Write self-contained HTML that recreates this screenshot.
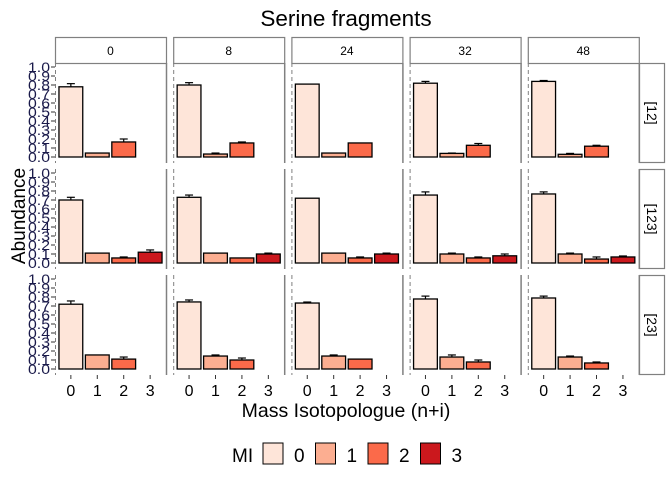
<!DOCTYPE html>
<html><head><meta charset="utf-8"><style>
body{margin:0;background:#fff;}
svg{display:block;font-family:"Liberation Sans",sans-serif;}
</style></head><body>
<svg id="chart" width="672" height="480">
<text x="346" y="26" text-anchor="middle" font-size="22.5">Serine fragments</text>
<text transform="translate(25,216) rotate(-90)" text-anchor="middle" font-size="19">Abundance</text>
<text x="346" y="417" text-anchor="middle" font-size="19.5">Mass Isotopologue (n+i)</text>
<g id="legend">
<text x="232" y="462" font-size="19">MI</text>
</g>
</svg>
<script>
const columns = ["0","8","24","32","48"];
const rowsLbl = ["[12]","[123]","[23]"];
const isotopologues = [0,1,2,3];
const yTicks = [0,0.1,0.2,0.3,0.4,0.5,0.6,0.7,0.8,0.9,1.0];
const yTickLabels = ["0.0","0.1","0.2","0.3","0.4","0.5","0.6","0.7","0.8","0.9","1.0"];
const valuesR12 = [[0.78,0.044,0.167,null],[0.80,0.033,0.156,null],[0.81,0.044,0.156,null],[0.82,0.04,0.13,null],[0.84,0.03,0.12,null]];
const errR12 = [[0.815,0.044,0.20,null],[0.826,0.044,0.167,null],[0.81,0.044,0.156,null],[0.84,0.044,0.15,null],[0.85,0.04,0.13,null]];
const valuesR123 = [[0.70,0.11,0.056,0.12],[0.73,0.11,0.056,0.10],[0.72,0.11,0.056,0.10],[0.755,0.10,0.056,0.08],[0.767,0.10,0.044,0.067]];
const errR123 = [[0.73,0.11,0.067,0.145],[0.755,0.11,0.056,0.11],[0.72,0.11,0.067,0.11],[0.79,0.11,0.067,0.10],[0.79,0.11,0.067,0.078]];
const valuesR23 = [[0.72,0.156,0.11,null],[0.745,0.144,0.10,null],[0.733,0.144,0.11,null],[0.778,0.133,0.078,null],[0.789,0.133,0.067,null]];
const errR23 = [[0.756,0.156,0.133,null],[0.767,0.156,0.122,null],[0.744,0.156,0.11,null],[0.81,0.156,0.10,null],[0.81,0.144,0.078,null]];
const fills = ["#FEE5D9","#FCAE91","#FB6A4A","#CB181D"];

const values=[valuesR12,valuesR123,valuesR23], errs=[errR12,errR123,errR23];
const svg=document.getElementById('chart');
const NS="http://www.w3.org/2000/svg";
function mk(t,a,p){const e=document.createElementNS(NS,t);for(const k in a)e.setAttribute(k,a[k]);(p||svg).appendChild(e);return e;}
const colLeft=c=>55+c*118.2, pw=111;
const rowTop=r=>63+r*106, ph=100;
const xs=(c,v)=>colLeft(c)+(v+0.6)*pw/4.2;
const ys=(r,v)=>rowTop(r)+94-v*90;
const bw=0.9*pw/4.2;

columns.forEach((lab,c)=>{
  const s=mk('rect',{x:colLeft(c)+0.5,y:37.5,width:pw,height:26,fill:'#fff',stroke:'#808080','stroke-width':1.2});
  
  
  const t=mk('text',{x:colLeft(c)+pw/2,y:55,'text-anchor':'middle','font-size':12});
  t.textContent=lab;
  
  
});
rowsLbl.forEach((lab,r)=>{
  const s=mk('rect',{x:639.5,y:rowTop(r)+0.5,width:25,height:ph-1,fill:'#fff',stroke:'#808080','stroke-width':1.2});
  
  
  const t=mk('text',{transform:`translate(647,${rowTop(r)+ph/2}) rotate(90)`,'text-anchor':'middle','font-size':14});
  t.textContent=lab;
  
  
});
for(let r=0;r<3;r++){
  for(let c=0;c<5;c++){
    const g=mk('g',{});
    
    
    mk('line',{x1:colLeft(c)+0.5,x2:colLeft(c)+0.5,y1:rowTop(r),y2:rowTop(r)+ph,stroke:'#808080','stroke-dasharray':'4,3','stroke-width':1},g);
    mk('line',{x1:colLeft(c)+pw+0.5,x2:colLeft(c)+pw+0.5,y1:rowTop(r),y2:rowTop(r)+ph,stroke:'#808080','stroke-width':1.5},g);
    isotopologues.forEach((m,i)=>{
      const v=values[r][c][i]; if(v==null) return;
      const b=mk('rect',{x:xs(c,m)-bw/2,y:ys(r,v),width:bw,height:ys(r,0)-ys(r,v),fill:fills[i],stroke:'#000','stroke-width':1.3},g);
      
      
      const e=errs[r][c][i];
      if(e!=null && e>v+0.003){
        mk('line',{x1:xs(c,m),x2:xs(c,m),y1:ys(r,v),y2:ys(r,e),stroke:'#000','stroke-width':1.2},g);
        mk('line',{x1:xs(c,m)-4,x2:xs(c,m)+4,y1:ys(r,e),y2:ys(r,e),stroke:'#000','stroke-width':1.2},g);
      }
    });
  }
  yTicks.forEach((tv,i)=>{
    mk('line',{x1:51,x2:55,y1:ys(r,tv),y2:ys(r,tv),stroke:'#333','stroke-width':1});
    const t=mk('text',{x:50,y:ys(r,tv)+5,'text-anchor':'end','font-size':14,fill:'#1a1a4a',textLength:22,lengthAdjust:'spacingAndGlyphs'});
    t.textContent=yTickLabels[i];
    
    
  });
}
for(let c=0;c<5;c++){
  isotopologues.forEach(m=>{
    mk('line',{x1:xs(c,m),x2:xs(c,m),y1:375,y2:379,stroke:'#333'});
    const t=mk('text',{x:xs(c,m),y:396,'text-anchor':'middle','font-size':16});
    t.textContent=String(m);
    
    
  });
}
const lg=document.getElementById('legend');
isotopologues.forEach((m,i)=>{
  const bx=263+i*52.5;
  const r=mk('rect',{x:bx,y:443,width:20,height:21,fill:fills[i],stroke:'#000','stroke-width':1},lg);
  
  
  const t=mk('text',{x:bx+31,y:462,'font-size':19},lg);
  t.textContent=String(m);
  
  
});
</script>
</body></html>
